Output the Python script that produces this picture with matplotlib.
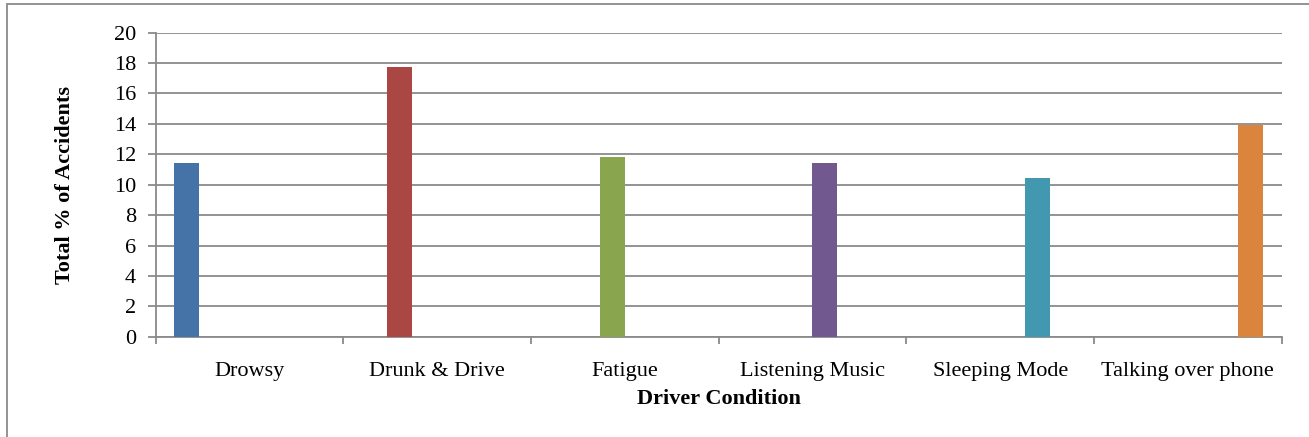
import numpy as np
import matplotlib
matplotlib.use("Agg")
import matplotlib.pyplot as plt
from matplotlib.patches import Rectangle

matplotlib.rcParams.update({'font.family': 'Liberation Serif', 'font.size': 16})

# Share of accidents (%) by driver condition
conditions = ["Drowsy", "Drunk & Drive", "Fatigue", "Listening Music",
              "Sleeping Mode", "Talking over phone"]
accident_pct = [11.43, 17.74, 11.82, 11.43, 10.45, 13.9]
bar_colors = ["#4572A7", "#AA4643", "#89A54E", "#71588F", "#4198AF", "#DB843D"]

grid_color = "#8a8a8a"

fig = plt.figure(figsize=(13.09, 4.37), dpi=100)
ax = fig.add_axes([0.1189, 0.2295, 0.8602, 0.6957])

# each condition is its own series, so bars sit in a clustered slot
n_series = len(conditions)
gap = 1.5
bar_w = 1.0 / (n_series + gap)
for i, (val, col) in enumerate(zip(accident_pct, bar_colors)):
    x = i - 0.5 + gap / 2 * bar_w + (i + 0.5) * bar_w
    ax.bar(x, val, width=bar_w, color=col, zorder=3)

ax.set_xlim(-0.5, n_series - 0.5)
ax.set_ylim(0, 20)
ax.set_yticks(np.arange(0, 21, 2))
ax.yaxis.grid(True, color=grid_color, linewidth=1.3, zorder=0)

ax.set_xticks(range(n_series))
ax.set_xticklabels(conditions)
ax.set_xticks(np.arange(-0.5, n_series, 1), minor=True)
ax.tick_params(axis='x', which='major', length=0, pad=18)
ax.tick_params(axis='x', which='minor', length=5, width=1.3, color=grid_color, direction='out')
ax.tick_params(axis='y', length=6, width=1.3, color=grid_color, pad=8)

for side in ("top", "right"):
    ax.spines[side].set_visible(False)
for side in ("left", "bottom"):
    ax.spines[side].set_color(grid_color)
    ax.spines[side].set_linewidth(1.3)

ax.set_ylabel("Total % of Accidents", fontweight='bold', labelpad=28)
ax.set_xlabel("Driver Condition", fontweight='bold', labelpad=6)

# chart frame
fig.patches.append(Rectangle((7.3 / 1309, -0.1), 1.2, 1.1 - 4.5 / 437,
                             transform=fig.transFigure, fill=False,
                             edgecolor=grid_color, linewidth=1.3))

fig.savefig("out.png", dpi=100)
